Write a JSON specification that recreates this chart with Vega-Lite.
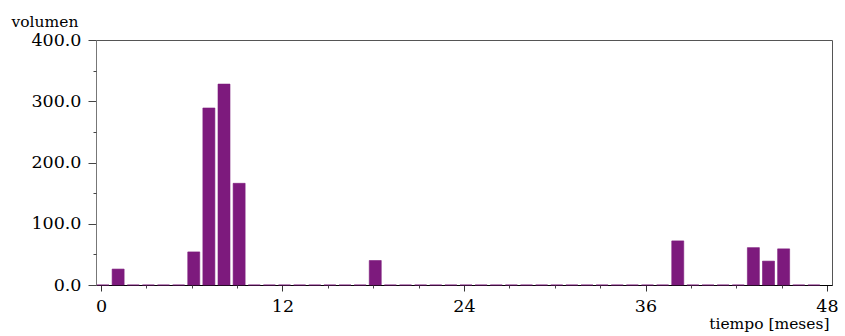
{
  "$schema": "https://vega.github.io/schema/vega-lite/v6.json",
  "autosize": "none",
  "width": 736,
  "height": 245,
  "padding": {"left": 96, "top": 40, "right": 13, "bottom": 51},
  "background": "white",
  "config": {
    "view": {"stroke": "#555", "strokeWidth": 1},
    "font": "DejaVu Serif",
    "axis": {
      "labelFont": "DejaVu Serif",
      "titleFont": "DejaVu Serif",
      "labelFontSize": 17.5,
      "titleFontSize": 15.5,
      "labelColor": "#000",
      "titleColor": "#000",
      "titleFontWeight": "normal",
      "grid": false,
      "labelFlush": false,
      "labelOverlap": false,
      "labelBound": false
    }
  },
  "data": {
    "values": [
      {"mes": 0, "volumen": 0}, {"mes": 1, "volumen": 26}, {"mes": 2, "volumen": 0}, {"mes": 3, "volumen": 0},
      {"mes": 4, "volumen": 0}, {"mes": 5, "volumen": 0}, {"mes": 6, "volumen": 54}, {"mes": 7, "volumen": 289},
      {"mes": 8, "volumen": 328}, {"mes": 9, "volumen": 166}, {"mes": 10, "volumen": 0}, {"mes": 11, "volumen": 0},
      {"mes": 12, "volumen": 0}, {"mes": 13, "volumen": 0}, {"mes": 14, "volumen": 0}, {"mes": 15, "volumen": 0},
      {"mes": 16, "volumen": 0}, {"mes": 17, "volumen": 0}, {"mes": 18, "volumen": 40}, {"mes": 19, "volumen": 0},
      {"mes": 20, "volumen": 0}, {"mes": 21, "volumen": 0}, {"mes": 22, "volumen": 0}, {"mes": 23, "volumen": 0},
      {"mes": 24, "volumen": 0}, {"mes": 25, "volumen": 0}, {"mes": 26, "volumen": 0}, {"mes": 27, "volumen": 0},
      {"mes": 28, "volumen": 0}, {"mes": 29, "volumen": 0}, {"mes": 30, "volumen": 0}, {"mes": 31, "volumen": 0},
      {"mes": 32, "volumen": 0}, {"mes": 33, "volumen": 0}, {"mes": 34, "volumen": 0}, {"mes": 35, "volumen": 0},
      {"mes": 36, "volumen": 0}, {"mes": 37, "volumen": 0}, {"mes": 38, "volumen": 72}, {"mes": 39, "volumen": 0},
      {"mes": 40, "volumen": 0}, {"mes": 41, "volumen": 0}, {"mes": 42, "volumen": 0}, {"mes": 43, "volumen": 61},
      {"mes": 44, "volumen": 39}, {"mes": 45, "volumen": 59}, {"mes": 46, "volumen": 0}, {"mes": 47, "volumen": 0}
    ]
  },
  "layer": [
    {
      "mark": {"type": "bar", "size": 12, "xOffset": 2, "color": "#7d1a7d", "stroke": "#7d1a7d", "strokeWidth": 1, "strokeOpacity": 0.6},
      "encoding": {
        "x": {
          "field": "mes", "type": "quantitative",
          "scale": {"domain": [0, 48], "nice": false},
          "axis": {
            "orient": "bottom", "values": [0, 12, 24, 36, 48], "format": "d",
            "tickSize": 6, "tickColor": "#333", "domainColor": "#000",
            "labelBaseline": "alphabetic", "labelPadding": 20,
            "title": "tiempo [meses]", "titleAlign": "right", "titleAnchor": "end",
            "titleX": 733, "titleY": 43, "titleBaseline": "alphabetic"
          }
        },
        "y": {
          "field": "volumen", "type": "quantitative",
          "scale": {"domain": [0, 400], "nice": false},
          "axis": {
            "orient": "left", "values": [0, 100, 200, 300, 400], "format": ".1f",
            "tickSize": 8, "tickColor": "#444", "domainColor": "#777",
            "labelPadding": 7,
            "title": "volumen", "titleAngle": 0, "titleAlign": "left", "titleAnchor": "start",
            "titleX": -85, "titleY": -14, "titleBaseline": "alphabetic"
          }
        }
      }
    },
    {
      "mark": {"type": "bar", "opacity": 0},
      "encoding": {
        "x": {
          "field": "mes", "type": "quantitative",
          "scale": {"domain": [0, 48], "nice": false},
          "axis": {
            "orient": "bottom", "values": [3, 6, 9, 15, 18, 21, 27, 30, 33, 39, 42, 45],
            "labels": false, "domain": false, "tickSize": 3, "tickColor": "#444", "title": null
          }
        },
        "y": {
          "field": "volumen", "type": "quantitative",
          "scale": {"domain": [0, 400], "nice": false},
          "axis": {
            "orient": "left", "values": [50, 150, 250, 350],
            "labels": false, "domain": false, "tickSize": 3, "tickColor": "#444", "title": null
          }
        }
      }
    }
  ],
  "resolve": {"axis": {"x": "independent", "y": "independent"}}
}
